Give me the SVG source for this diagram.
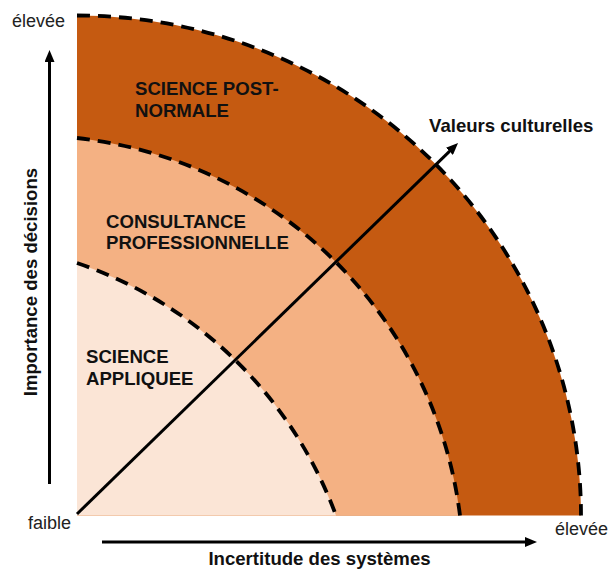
<svg xmlns="http://www.w3.org/2000/svg" width="614" height="569" viewBox="0 0 614 569">
  <style>
    .lbl { font-family: "Liberation Sans", Arial, sans-serif; font-size: 18.6px; font-weight: bold; fill: #111; }
    .tick { font-family: "Liberation Sans", Arial, sans-serif; font-size: 18px; fill: #222; }
    .dash { fill: none; stroke: #000; stroke-width: 3.8; stroke-dasharray: 13 8; }
    .arrow { fill: none; stroke: #000; stroke-width: 3; marker-end: url(#head); }
  </style>
  <defs>
    <marker id="head" viewBox="0 0 12 10" refX="4" refY="5" markerWidth="12" markerHeight="10" markerUnits="userSpaceOnUse" orient="auto">
      <path d="M0,0 L12,5 L0,10 Z" fill="#000"/>
    </marker>
  </defs>
  <rect width="614" height="569" fill="#fff"/>

  <g id="post-normale">
    <path d="M77,515.5 L77,15.5 A504,500 0 0 1 581,515.5 Z" fill="#C55A11"/>
    <path class="dash" d="M77,15.5 A504,500 0 0 1 581,515.5"/>
    <text class="lbl" x="135" y="95">SCIENCE POST-</text>
    <text class="lbl" x="135" y="117">NORMALE</text>
  </g>

  <g id="consultance">
    <path d="M77,515.5 L77,138 A434,434 0 0 1 460,515.5 Z" fill="#F4B183"/>
    <path class="dash" d="M77,138 A434,434 0 0 1 460,515.5"/>
    <text class="lbl" x="106" y="228">CONSULTANCE</text>
    <text class="lbl" x="106" y="249">PROFESSIONNELLE</text>
  </g>

  <g id="appliquee">
    <path d="M77,515.5 L77,263 A420,420 0 0 1 336,515.5 Z" fill="#FBE5D6"/>
    <path class="dash" d="M77,263 A420,420 0 0 1 336,515.5"/>
    <text class="lbl" x="86" y="363">SCIENCE</text>
    <text class="lbl" x="86" y="385">APPLIQUEE</text>
  </g>

  <g id="connectors">
    <line class="arrow" x1="49.5" y1="484" x2="49.5" y2="58"/>
    <line class="arrow" x1="102" y1="542" x2="529" y2="542"/>
    <line class="arrow" x1="77" y1="514" x2="452.3" y2="148.6"/>
  </g>

  <g id="axis-labels">
    <text class="tick" x="12" y="27">élevée</text>
    <text class="tick" x="28" y="529">faible</text>
    <text class="tick" x="555" y="535">élevée</text>
    <text class="lbl" x="319.5" y="565" text-anchor="middle">Incertitude des systèmes</text>
    <text class="lbl" transform="translate(37,282) rotate(-90)" text-anchor="middle">Importance des décisions</text>
    <text class="lbl" x="429" y="132">Valeurs culturelles</text>
  </g>
</svg>
